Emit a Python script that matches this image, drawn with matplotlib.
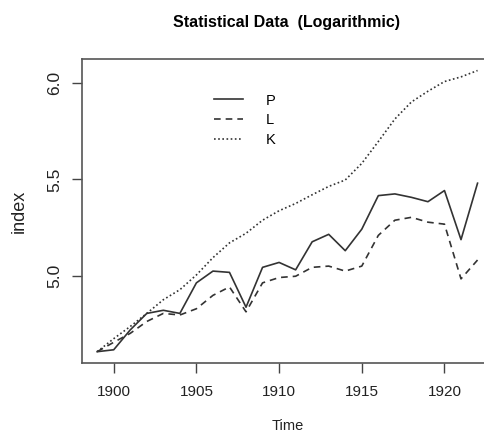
import numpy as np
import matplotlib
matplotlib.use("Agg")
import matplotlib.pyplot as plt

# Cobb-Douglas indices, 1899-1922 (log scale in the plot)
years = list(range(1899, 1923))
P = [100, 101, 112, 122, 124, 122, 143, 152, 151, 126, 155, 159,
     153, 177, 184, 169, 189, 225, 227, 223, 218, 231, 179, 240]
L = [100, 105, 110, 117, 122, 121, 125, 134, 140, 123, 143, 147,
     148, 155, 156, 152, 156, 183, 198, 201, 196, 194, 146, 161]
K = [100, 107, 114, 122, 131, 138, 149, 163, 176, 185, 198, 208,
     216, 226, 236, 244, 266, 298, 335, 366, 387, 407, 417, 431]
labels = ["P", "L", "K"]

plt.rcParams["font.family"] = ["Liberation Sans", "DejaVu Sans"]

fig = plt.figure(figsize=(4.85, 4.32), dpi=100)
ax = fig.add_axes([0.169, 0.16, 0.847, 0.703])

col = "#333333"
ax.plot(years, np.log(P), color=col, lw=1.2, ls="-", label=labels[0])
ax.plot(years, np.log(L), color=col, lw=1.2, ls=(0, (4, 3)), label=labels[1])
ax.plot(years, np.log(K), color=col, lw=1.2, ls=(0, (1, 1.5)), label=labels[2])

ax.set_xlim(1898.08, 1922.92)
ax.set_ylim(4.547, 6.125)
ax.set_xticks([1900, 1905, 1910, 1915, 1920])
ax.set_yticks([5.0, 5.5, 6.0])
ax.set_yticklabels(["5.0", "5.5", "6.0"], rotation=90, va="center")
ax.tick_params(direction="out", length=7, width=1, colors="#444444",
               labelcolor="#222222")
ax.tick_params(axis="x", pad=9, labelsize=11)
ax.tick_params(axis="y", pad=7, labelsize=12.5)
for s in ax.spines.values():
    s.set_color("#555555")
    s.set_linewidth(1.2)

ax.set_xlabel("Time", fontsize=10.5, color="#222222", labelpad=14)
ax.set_ylabel("index", fontsize=13, color="#222222", labelpad=14)
fig.suptitle("Statistical Data  (Logarithmic)", fontsize=11.5,
             fontweight="bold", x=0.59, y=0.965)

ax.legend(frameon=False, loc="upper left", bbox_to_anchor=(0.29, 0.93),
          handlelength=2.0, handletextpad=1.5, labelspacing=0.4,
          fontsize=10.5)

fig.savefig("out.png", dpi=100)
